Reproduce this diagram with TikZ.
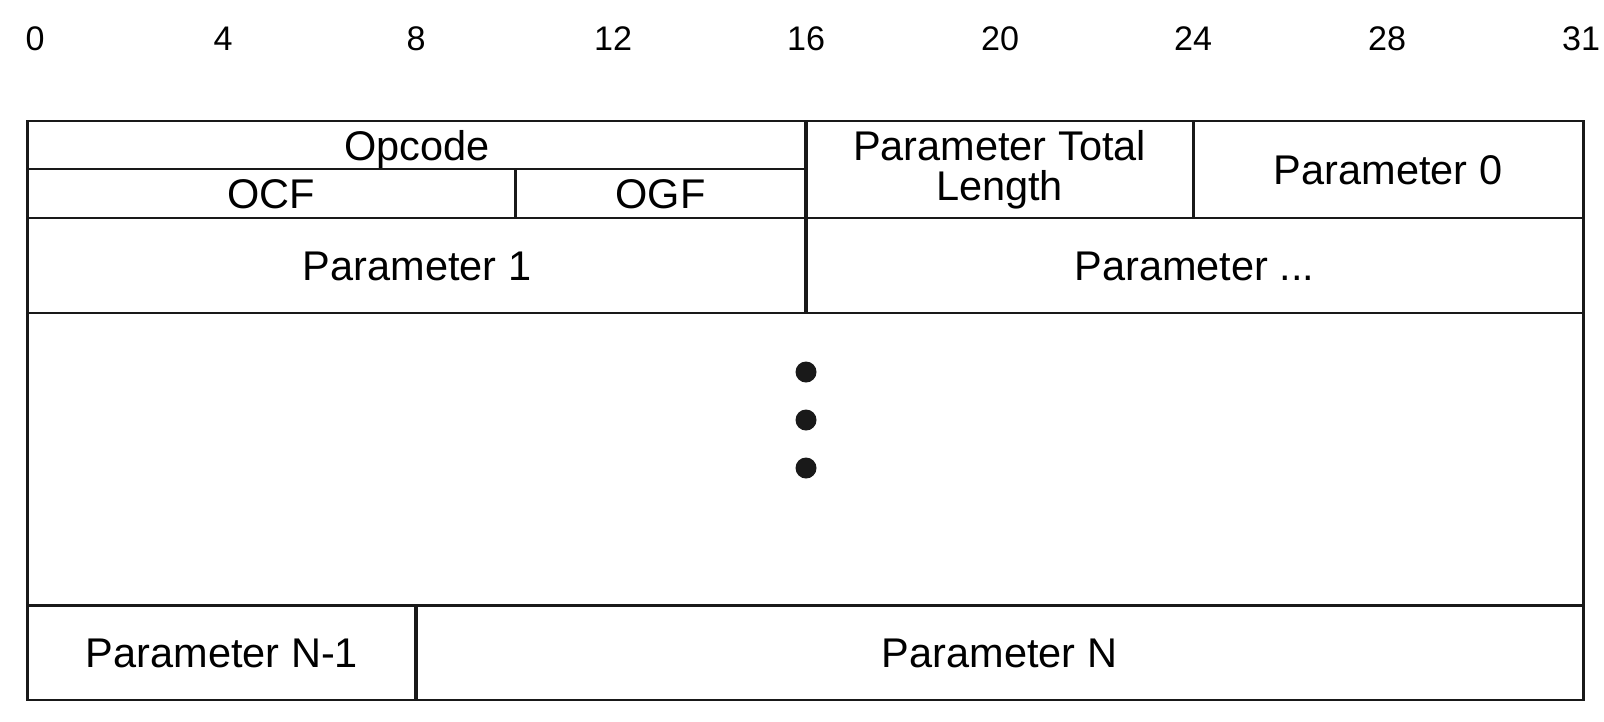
\documentclass[tikz,border=0pt]{standalone}
\usepackage{fontspec}
\setmainfont{Liberation Sans}
\begin{document}
\begin{tikzpicture}[x=0.01cm,y=-0.01cm,
  cell/.style={draw=black!90, line width=0.8pt, inner sep=0pt, outer sep=0pt,
    rectangle, align=center, font=\fontsize{11.8}{11.4}\selectfont},
  onecell/.style={cell, text height=0.88em, text depth=0pt},
  bitnum/.style={inner sep=0pt, font=\fontsize{9.7}{10}\selectfont},
  dotmark/.style={circle, fill=black!90, inner sep=0pt, minimum size=0.21cm}]
\useasboundingbox (0,0) rectangle (1604,721);
% bit numbers
\node[bitnum] (b0)  at (35,39)   {0};
\node[bitnum] (b4)  at (223,39)  {4};
\node[bitnum] (b8)  at (416,39)  {8};
\node[bitnum] (b12) at (613,39)  {12};
\node[bitnum] (b16) at (806,39)  {16};
\node[bitnum] (b20) at (1000,39) {20};
\node[bitnum] (b24) at (1193,39) {24};
\node[bitnum] (b28) at (1387,39) {28};
\node[bitnum] (b31) at (1581,39) {31};
% cells
\node[onecell, minimum width=7.78cm, minimum height=0.48cm] (opcode) at (417,145) {Opcode};
\node[onecell, minimum width=4.87cm, minimum height=0.49cm] (ocf) at (271.5,193.5) {OCF};
\node[onecell, minimum width=2.91cm, minimum height=0.49cm] (ogf) at (660.5,193.5) {OGF};
\node[cell, minimum width=3.87cm, minimum height=0.97cm] (ptl) at (999.5,169.5) {Parameter Total\\Length};
\node[onecell, minimum width=3.90cm, minimum height=0.97cm] (p0) at (1388,169.5) {Parameter 0};
\node[onecell, minimum width=7.78cm, minimum height=0.95cm] (p1) at (417,265.5) {Parameter 1};
\node[onecell, minimum width=7.77cm, minimum height=0.95cm] (pdots) at (1194.5,265.5) {Parameter ...};
\node[cell, minimum width=15.55cm, minimum height=2.92cm] (mid) at (805.5,459) {};
\node[onecell, minimum width=3.88cm, minimum height=0.95cm] (pn1) at (222,652.5) {Parameter N-1};
\node[onecell, minimum width=11.67cm, minimum height=0.95cm] (pn) at (999.5,652.5) {Parameter N};
% vertical dots
\node[dotmark] (d1) at (806,372) {};
\node[dotmark] (d2) at (806,420) {};
\node[dotmark] (d3) at (806,468) {};
\end{tikzpicture}
\end{document}
